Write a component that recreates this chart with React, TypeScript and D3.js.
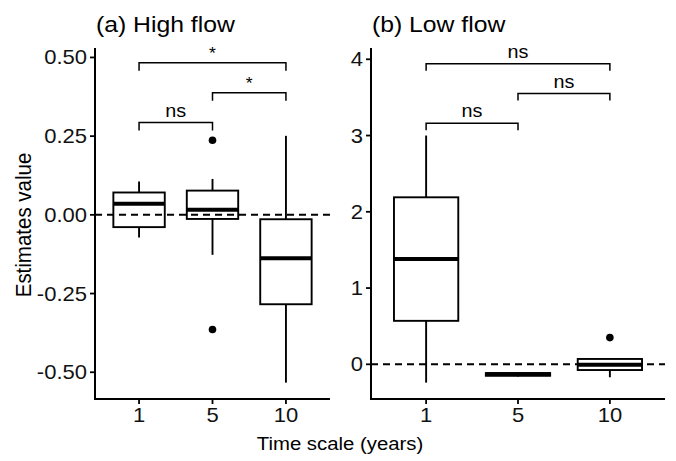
import React from "react";
import * as d3 from "d3";

const timeScales = ["1", "5", "10"];

// (a) high flow box stats
const highLow = [-0.072, -0.127, -0.533];
const highQ1 = [-0.039, -0.013, -0.284];
const highMedian = [0.035, 0.016, -0.138];
const highQ3 = [0.071, 0.077, -0.014];
const highHigh = [0.106, 0.114, 0.251];
const highOutliers = [[], [0.237, -0.364], []];
const highSig = ["ns", "*", "*"];
const highBracketY = [0.293, 0.388, 0.483];

// (b) low flow box stats
const lowLow = [-0.24, -0.16, -0.17];
const lowQ1 = [0.57, -0.15, -0.075];
const lowMedian = [1.38, -0.13, -0.005];
const lowQ3 = [2.19, -0.115, 0.07];
const lowHigh = [3.0, -0.1, 0.07];
const lowOutliers = [[], [], [0.35]];
const lowSig = ["ns", "ns", "ns"];
const lowBracketY = [3.16, 3.55, 3.94];

const comparisons = [[0, 1], [1, 2], [0, 2]];
const highTicks = [-0.5, -0.25, 0, 0.25, 0.5];
const lowTicks = [0, 1, 2, 3, 4];

const font = "'Liberation Sans', Arial, sans-serif";
const sx = 1.1; // text looks a bit wide in the original
const hyphen = (f: (n: number) => string) => (n: number) => f(n).replace("\u2212", "-");

function Panel(props: any) {
  const { title, left, right, top, bottom, domain, ticks, fmt, lo, q1, med, q3, hi, outs, sig, brY, tickDrop } = props;
  const x = d3.scalePoint<string>().domain(timeScales).range([left, right]).padding(0.6);
  const y = d3.scaleLinear().domain(domain).range([bottom, top]);
  const bw = x.step() * 0.7;

  return (
    <g>
      <text transform={`translate(${left + 1},32) scale(${sx},1)`} fontSize={22.5} fontFamily={font}>{title}</text>
      {/* reference line */}
      <line x1={left} x2={right} y1={y(0)} y2={y(0)} stroke="#000" strokeWidth={2} strokeDasharray="7,5" />
      {timeScales.map((c, i) => {
        const cx = x(c)!;
        return (
          <g key={c}>
            <line x1={cx} x2={cx} y1={y(hi[i])} y2={y(q3[i])} stroke="#000" strokeWidth={1.9} />
            <line x1={cx} x2={cx} y1={y(q1[i])} y2={y(lo[i])} stroke="#000" strokeWidth={1.9} />
            <rect x={cx - bw / 2} y={y(q3[i])} width={bw} height={Math.max(0, y(q1[i]) - y(q3[i]))}
              fill="none" stroke="#000" strokeWidth={1.9} />
            <line x1={cx - bw / 2} x2={cx + bw / 2} y1={y(med[i])} y2={y(med[i])} stroke="#000" strokeWidth={4} />
            {outs[i].map((v: number, j: number) => (
              <circle key={j} cx={cx} cy={y(v)} r={3.8} fill="#000" />
            ))}
          </g>
        );
      })}
      {comparisons.map((cmp, k) => {
        const x1 = x(timeScales[cmp[0]])!;
        const x2 = x(timeScales[cmp[1]])!;
        const yy = y(brY[k]);
        return (
          <g key={k}>
            <path d={`M${x1},${yy + tickDrop}V${yy}H${x2}V${yy + tickDrop}`} fill="none" stroke="#000" strokeWidth={1.5} />
            <text transform={`translate(${(x1 + x2) / 2},${yy - (sig[k] === "*" ? 4 : 6)}) scale(${sx},1)`}
              textAnchor="middle" fontSize={sig[k] === "*" ? 16 : 18} fontFamily={font}>{sig[k]}</text>
          </g>
        );
      })}
      {/* axes */}
      <line x1={left} x2={left} y1={top} y2={bottom} stroke="#000" strokeWidth={2} />
      <line x1={left - 1} x2={right} y1={bottom} y2={bottom} stroke="#000" strokeWidth={2} />
      {ticks.map((t: number) => (
        <g key={t}>
          <line x1={left - 5} x2={left} y1={y(t)} y2={y(t)} stroke="#000" strokeWidth={1.8} />
          <text transform={`translate(${left - 8},${y(t) + 7}) scale(${sx},1)`} textAnchor="end"
            fontSize={20} fontFamily={font} fill="#111">{fmt(t)}</text>
        </g>
      ))}
      {timeScales.map(c => (
        <g key={c}>
          <line x1={x(c)} x2={x(c)} y1={bottom} y2={bottom + 5} stroke="#000" strokeWidth={1.8} />
          <text transform={`translate(${x(c)},${bottom + 23}) scale(${sx},1)`} textAnchor="middle"
            fontSize={20} fontFamily={font} fill="#111">{c}</text>
        </g>
      ))}
    </g>
  );
}

export default function App() {
  return (
    <svg width={676} height={461} style={{ position: "absolute", left: 0, top: 0, background: "#fff" }}>
      <Panel title="(a) High flow" left={95} right={330} top={48} bottom={399} domain={[-0.585, 0.53]}
        ticks={highTicks} fmt={hyphen(d3.format(".2f"))} lo={highLow} q1={highQ1} med={highMedian} q3={highQ3}
        hi={highHigh} outs={highOutliers} sig={highSig} brY={highBracketY} tickDrop={8} />
      <Panel title="(b) Low flow" left={371} right={665} top={48} bottom={399} domain={[-0.455, 4.148]}
        ticks={lowTicks} fmt={d3.format("d")} lo={lowLow} q1={lowQ1} med={lowMedian} q3={lowQ3}
        hi={lowHigh} outs={lowOutliers} sig={lowSig} brY={lowBracketY} tickDrop={7} />
      <text transform={`translate(31,225) scale(${sx},1) rotate(-90)`} textAnchor="middle" fontSize={20.5}
        fontFamily={font}>Estimates value</text>
      <text transform={`translate(340,450) scale(${sx},1)`} textAnchor="middle" fontSize={18.5}
        fontFamily={font}>Time scale (years)</text>
    </svg>
  );
}
